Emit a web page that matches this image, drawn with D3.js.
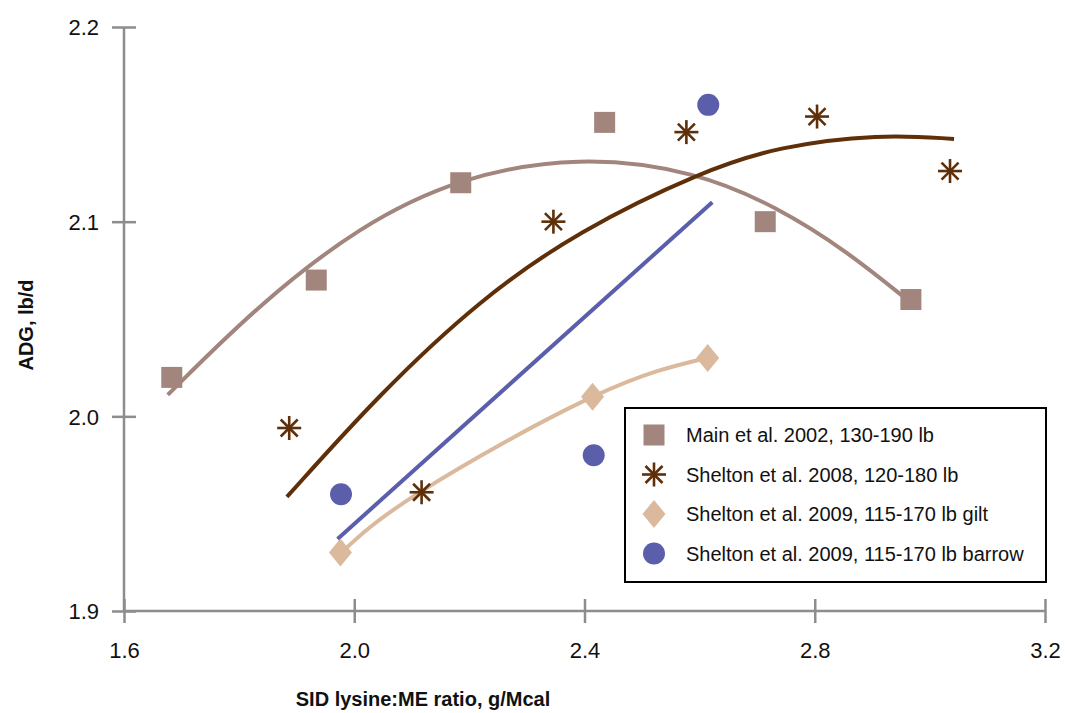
<!DOCTYPE html>
<html>
<head>
<meta charset="utf-8">
<script src="https://cdn.jsdelivr.net/npm/d3@7"></script>
<style>
  body { margin: 0; background: #fff; }
  text { font-family: "Liberation Sans", Arial, Helvetica, sans-serif; }
</style>
</head>
<body>
<script>
// observed points
var mainX = [1.683, 1.934, 2.185, 2.435, 2.714, 2.967],
    mainY = [2.020, 2.070, 2.120, 2.151, 2.100, 2.060];
var s08X = [1.887, 2.117, 2.346, 2.577, 2.804, 3.035],
    s08Y = [1.994, 1.961, 2.100, 2.146, 2.154, 2.126];
var giltX = [1.976, 2.414, 2.614],
    giltY = [1.930, 2.010, 2.030];
var barrowX = [1.977, 2.416, 2.615],
    barrowY = [1.960, 1.980, 2.160];

// fitted curves
var mainFitX = [1.676, 1.836, 2.010, 2.183, 2.391, 2.594, 2.738, 2.855, 2.960],
    mainFitY = [2.011, 2.058, 2.098, 2.123, 2.134, 2.126, 2.107, 2.085, 2.060];
var s08FitX = [1.883, 2.044, 2.218, 2.391, 2.605, 2.738, 2.912, 3.042],
    s08FitY = [1.9586, 2.0116, 2.060, 2.0956, 2.126, 2.1387, 2.145, 2.1425];
var giltFitX = [1.977, 2.115, 2.414, 2.613],
    giltFitY = [1.9298, 1.9612, 2.010, 2.030];
var barrowFitX = [1.971, 2.622],
    barrowFitY = [1.937, 2.110];

var xTicks = [1.6, 2.0, 2.4, 2.8, 3.2],
    yTicks = [1.9, 2.0, 2.1, 2.2];
var labels = ["Main et al. 2002, 130-190 lb",
              "Shelton et al. 2008, 120-180 lb",
              "Shelton et al. 2009, 115-170 lb gilt",
              "Shelton et al. 2009, 115-170 lb barrow"];

var cMain = "#a2857c", c08 = "#5e2f08", cGilt = "#dbb99c", cBarrow = "#5b5fab";

var W = 1065, H = 713;
var svg = d3.select("body").append("svg")
    .attr("width", W)
    .attr("height", H);

var x = d3.scaleLinear().domain([1.6, 3.2]).range([124, 1045]);
var y = d3.scaleLinear().domain([1.9, 2.2]).range([611, 27]);

var axisColor = "#8d8d8f";

// y axis
var gy = svg.append("g")
    .attr("transform", "translate(124,0)")
    .call(d3.axisLeft(y).tickValues(yTicks).tickFormat(d3.format(".1f")).tickSize(12));
gy.select(".domain").attr("stroke", axisColor).attr("stroke-width", 2.5).attr("d", "M0," + y(1.9) + "V" + y(2.2));
gy.selectAll(".tick line").attr("stroke", axisColor).attr("stroke-width", 2.5).attr("x1", 12).attr("x2", -12);
gy.selectAll(".tick text").attr("x", -25).attr("dy", "0.36em")
    .attr("font-size", 22).attr("fill", "#111").style("font-family", "Liberation Sans, Arial, sans-serif");

// x axis
var gx = svg.append("g")
    .attr("transform", "translate(0,611)")
    .call(d3.axisBottom(x).tickValues(xTicks).tickFormat(d3.format(".1f")).tickSize(12));
gx.select(".domain").attr("stroke", axisColor).attr("stroke-width", 2.5).attr("d", "M" + x(1.6) + ",0H" + x(3.2));
gx.selectAll(".tick line").attr("stroke", axisColor).attr("stroke-width", 2.5).attr("y1", -12).attr("y2", 12);
gx.selectAll(".tick text").attr("y", 47).attr("dy", 0)
    .attr("font-size", 22).attr("fill", "#111").style("font-family", "Liberation Sans, Arial, sans-serif");

// axis titles
svg.append("text")
    .attr("transform", "translate(33,325) rotate(-90)")
    .attr("text-anchor", "middle")
    .attr("font-size", 20).attr("font-weight", "bold").attr("fill", "#111")
    .text("ADG, lb/d");
svg.append("text")
    .attr("x", 423).attr("y", 706)
    .attr("text-anchor", "middle")
    .attr("font-size", 20).attr("font-weight", "bold").attr("fill", "#111")
    .text("SID lysine:ME ratio, g/Mcal");

// fit lines
var line = d3.line().x(function(d) { return x(d[0]); }).y(function(d) { return y(d[1]); });
function zip(a, b) { return a.map(function(v, i) { return [v, b[i]]; }); }

var fits = [
  { xs: mainFitX, ys: mainFitY, color: cMain, curve: d3.curveBasis },
  { xs: s08FitX, ys: s08FitY, color: c08, curve: d3.curveBasis },
  { xs: barrowFitX, ys: barrowFitY, color: cBarrow, curve: d3.curveLinear },
  { xs: giltFitX, ys: giltFitY, color: cGilt, curve: d3.curveNatural }
];
svg.append("g").selectAll("path")
    .data(fits)
    .enter().append("path")
    .attr("fill", "none")
    .attr("stroke", function(d) { return d.color; })
    .attr("stroke-width", 4)
    .attr("d", function(d) { return line.curve(d.curve)(zip(d.xs, d.ys)); });

// marker drawing helpers
function square(g, cx, cy) {
  g.append("rect").attr("x", cx - 10.5).attr("y", cy - 10.5)
    .attr("width", 21).attr("height", 21).attr("fill", cMain);
}
function star(g, cx, cy) {
  var r = 12, dg = 8.5;
  var s = g.append("g").attr("stroke", c08).attr("stroke-width", 2.6);
  s.append("line").attr("x1", cx - r).attr("x2", cx + r).attr("y1", cy).attr("y2", cy);
  s.append("line").attr("x1", cx).attr("x2", cx).attr("y1", cy - r).attr("y2", cy + r);
  s.append("line").attr("x1", cx - dg).attr("x2", cx + dg).attr("y1", cy - dg).attr("y2", cy + dg);
  s.append("line").attr("x1", cx - dg).attr("x2", cx + dg).attr("y1", cy + dg).attr("y2", cy - dg);
}
function diamond(g, cx, cy) {
  g.append("path")
    .attr("d", "M" + cx + "," + (cy - 14) + "L" + (cx + 11.5) + "," + cy + "L" + cx + "," + (cy + 14) + "L" + (cx - 11.5) + "," + cy + "Z")
    .attr("fill", cGilt);
}
function circle(g, cx, cy) {
  g.append("circle").attr("cx", cx).attr("cy", cy).attr("r", 11).attr("fill", cBarrow);
}

var marks = svg.append("g");
mainX.forEach(function(v, i) { square(marks, x(v), y(mainY[i])); });
giltX.forEach(function(v, i) { diamond(marks, x(v), y(giltY[i])); });
barrowX.forEach(function(v, i) { circle(marks, x(v), y(barrowY[i])); });
s08X.forEach(function(v, i) { star(marks, x(v), y(s08Y[i])); });

// legend
var lg = svg.append("g");
lg.append("rect").attr("x", 625).attr("y", 408).attr("width", 421).attr("height", 174)
    .attr("fill", "#fff").attr("stroke", "#000").attr("stroke-width", 2);
var drawers = [square, star, diamond, circle];
labels.forEach(function(t, i) {
  var cy = 435 + i * 39.5;
  drawers[i](lg, 654, cy);
  lg.append("text").attr("x", 686).attr("y", cy + 7)
    .attr("font-size", 20).attr("fill", "#111").text(t);
});
</script>
</body>
</html>
